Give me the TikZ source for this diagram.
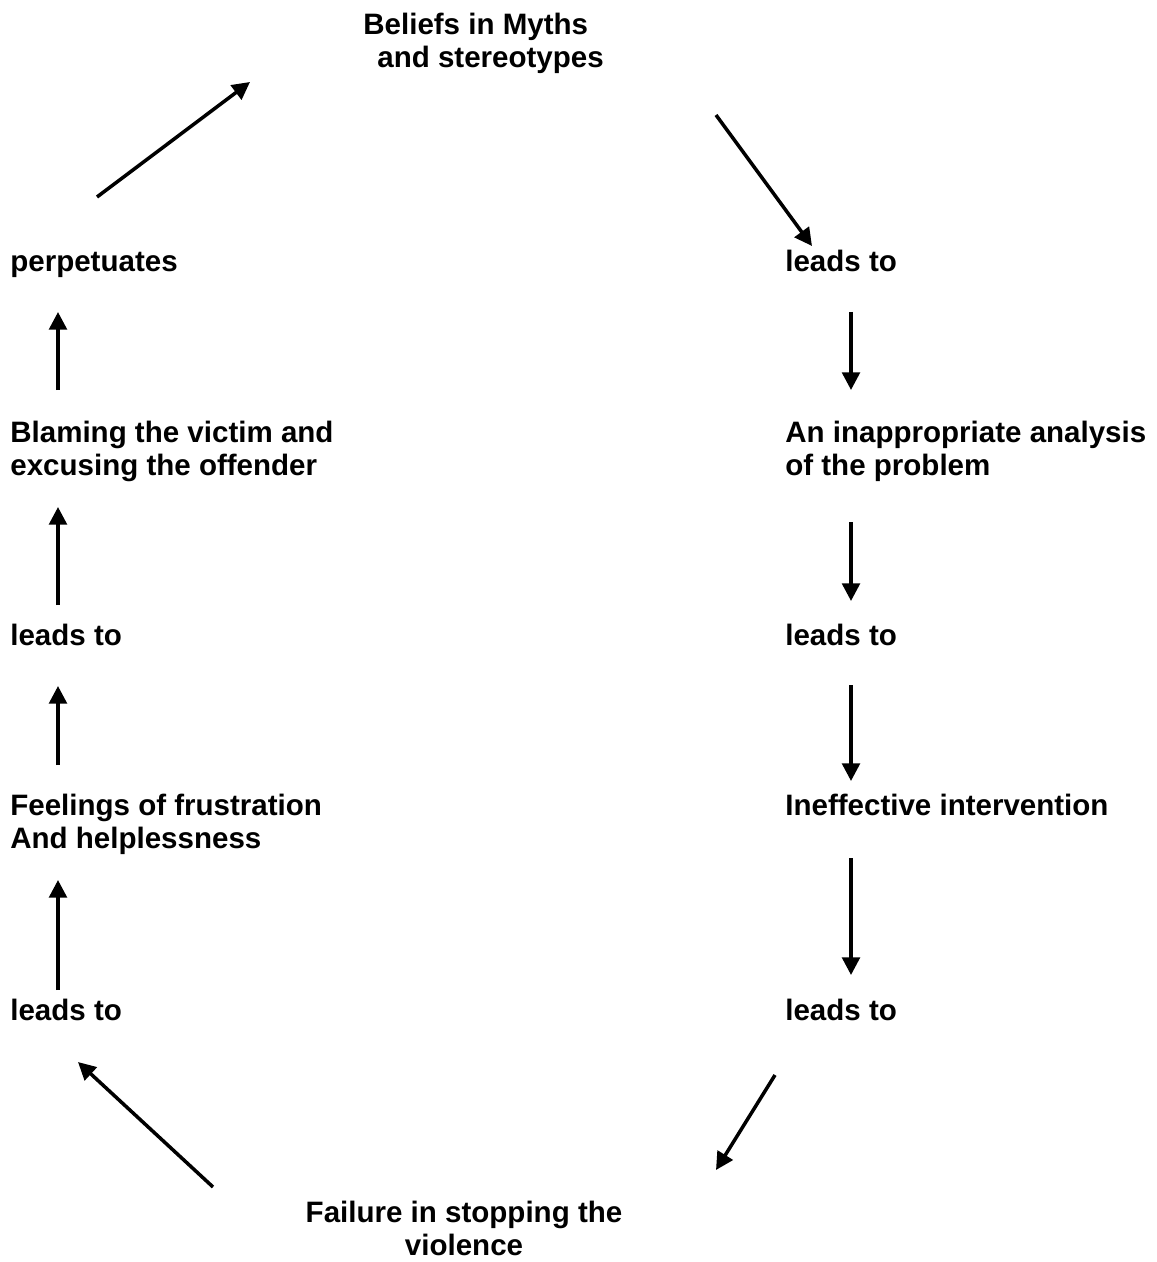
\documentclass[tikz,border=0pt]{standalone}
\usepackage{fontspec}
\setmainfont{Liberation Sans}
\usetikzlibrary{arrows.meta}

\begin{document}
\begin{tikzpicture}[every node/.style={font=\fontsize{16.8}{18.8}\selectfont\bfseries, inner sep=0pt},
  lbl/.style={anchor=base west},
  arr/.style={line width=2pt, -{Triangle[length=10pt,width=10pt]}}]

\useasboundingbox (0,0) rectangle (23.12,-25.24);

\node [anchor=north west, align=left] (mth) at (7.26,-0.26) {Beliefs in Myths\\\hspace*{0.28cm}and stereotypes};

\node [lbl] (ld1) at (15.7,-5.44) {leads to};
\node [lbl, align=left, anchor=north west] (ana) at (15.7,-8.42) {An inappropriate analysis\\of the problem};
\node [lbl] (ld2) at (15.7,-12.9) {leads to};
\node [lbl] (inf) at (15.7,-16.3) {Ineffective intervention};
\node [lbl] (ld3) at (15.7,-20.4) {leads to};

\node [anchor=north, align=center] (fal) at (9.28,-24.02) {Failure in stopping the\\violence};

\node [lbl] (ld4) at (0.2,-20.4) {leads to};
\node [lbl, align=left, anchor=north west] (fee) at (0.2,-15.88) {Feelings of frustration\\And helplessness};
\node [lbl] (ld5) at (0.2,-12.9) {leads to};
\node [lbl, align=left, anchor=north west] (bla) at (0.2,-8.42) {Blaming the victim and\\excusing the offender};
\node [lbl] (per) at (0.2,-5.44) {perpetuates};

\coordinate (a1s) at (14.32,-2.3);  \coordinate (a1e) at (16.24,-4.92);
\coordinate (a2s) at (17.02,-6.24); \coordinate (a2e) at (17.02,-7.8);
\coordinate (a3s) at (17.02,-10.44);\coordinate (a3e) at (17.02,-12.02);
\coordinate (a4s) at (17.02,-13.7); \coordinate (a4e) at (17.02,-15.62);
\coordinate (a5s) at (17.02,-17.16);\coordinate (a5e) at (17.02,-19.5);
\coordinate (a6s) at (15.5,-21.5);  \coordinate (a6e) at (14.32,-23.4);
\coordinate (a7s) at (4.26,-23.74); \coordinate (a7e) at (1.56,-21.24);
\coordinate (a8s) at (1.16,-19.8);  \coordinate (a8e) at (1.16,-17.6);
\coordinate (a9s) at (1.16,-15.3);  \coordinate (a9e) at (1.16,-13.72);
\coordinate (a10s) at (1.16,-12.1); \coordinate (a10e) at (1.16,-10.14);
\coordinate (a11s) at (1.16,-7.8);  \coordinate (a11e) at (1.16,-6.24);
\coordinate (a12s) at (1.94,-3.94); \coordinate (a12e) at (5.0,-1.64);

\begin{scope}[arr]
\draw (a1s) -- (a1e); %mth-ld1
\draw (a2s) -- (a2e); %ld1-ana
\draw (a3s) -- (a3e); %ana-ld2
\draw (a4s) -- (a4e); %ld2-inf
\draw (a5s) -- (a5e); %inf-ld3
\draw (a6s) -- (a6e); %ld3-fal
\draw (a7s) -- (a7e); %fal-ld4
\draw (a8s) -- (a8e); %ld4-fee
\draw (a9s) -- (a9e); %fee-ld5
\draw (a10s) -- (a10e); %ld5-bla
\draw (a11s) -- (a11e); %bla-per
\draw (a12s) -- (a12e); %per-mth
\end{scope}

\end{tikzpicture}
\end{document}
